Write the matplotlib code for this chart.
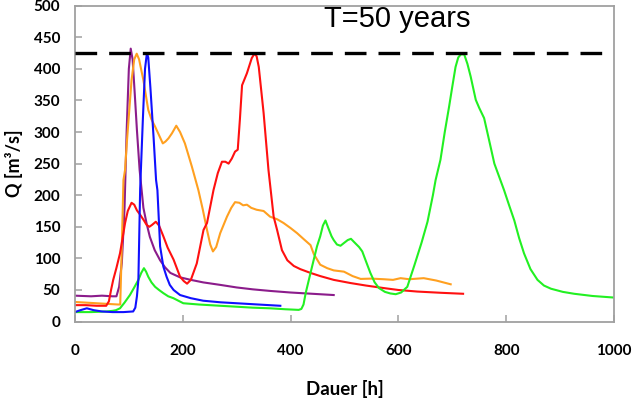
import matplotlib
matplotlib.use("Agg")
import matplotlib.pyplot as plt

# Hydrographs (duration in hours, discharge in m^3/s)
purple_t = [0, 30, 50, 70, 77, 82, 87, 92, 96, 100, 103.5, 107, 111, 115, 120, 127, 133, 139, 148,
            158, 167, 177, 195, 215, 238, 270, 300, 330, 362, 400, 440, 480]
purple_q = [41, 40, 41, 40, 40, 55, 93, 180, 303, 400, 432, 415, 360, 303, 240, 180, 155, 134, 113,
            97, 86, 77, 70, 66, 62, 58, 54, 51, 48.5, 46, 44, 42]

blue_t = [0, 10, 22, 35, 50, 70, 90, 108, 112, 115, 117.7, 121, 126, 130, 133.5, 136, 140, 146, 150.5,
          153, 158, 164, 170, 176, 183, 195, 215, 238, 270, 300, 340, 381]
blue_q = [15, 18, 21, 18, 16, 15, 15, 16, 22, 40, 66, 210, 320, 400, 425, 418, 370, 290, 224,
          208, 119, 87, 71, 58, 50, 42, 37, 33, 30.5, 29, 27, 25]

orange_t = [0, 20, 40, 60, 80, 84, 87, 90, 93, 96, 99, 105, 110, 114.6, 119, 127, 136, 142, 149, 156,
            163, 168, 173.5, 180, 188, 195, 204, 210, 217, 229, 237, 245, 251, 256, 262, 269.5, 282,
            290, 297, 305, 312, 319, 327, 337, 350, 362, 375, 387, 400, 412, 425, 437, 443, 455, 468,
            480, 499, 515, 530, 550, 573, 590, 604, 620, 647, 670, 697]
orange_q = [31, 30, 29, 28, 27, 27, 120, 224, 240, 280, 314, 382, 415, 424, 415, 382, 335, 320, 308,
            295, 282, 285, 290, 298, 310, 300, 282, 265, 245, 208, 178, 145, 122, 111, 118, 140,
            166, 180, 189, 188, 184, 185, 180, 177, 175, 166, 162, 156, 148, 140, 130, 121, 107, 90,
            84.5, 81, 79, 72, 67.5, 68, 67, 66, 68.7, 67, 68.7, 65, 59]

red_t = [0, 20, 40, 58, 63, 67, 71, 77, 83.6, 88, 93, 98, 105, 110, 115, 121, 128, 133, 138, 143, 150,
         156, 164, 172, 183, 195, 202, 208, 215, 226, 238.5, 245, 257, 265, 272.7, 279, 285, 291, 297,
         302, 306, 310, 319, 328, 333, 337, 341, 350, 359, 368.6, 375, 384, 394, 406, 418, 437, 455,
         480, 511, 540, 573, 600, 635, 680, 720]
red_q = [26, 26, 25, 25, 32, 50, 66, 85, 108, 130, 156, 175, 188, 185, 176, 169, 160, 153, 150, 153,
         158, 152, 135, 117, 98, 71, 64, 60, 66, 92, 145, 156, 208, 235, 253, 253, 250, 258, 269,
         272, 320, 374, 393, 417, 424, 420, 403, 330, 240, 166, 145, 113, 97, 88, 83, 77, 72,
         66, 61, 57, 53, 50, 47.5, 45.5, 44]

green_t = [0, 30, 59, 70, 76, 83.6, 92, 102, 110, 117.7, 123, 128, 132, 136, 142, 148.7, 156, 164, 173,
           182.7, 201, 230, 269.5, 300, 330, 362, 390, 415, 420, 424, 428, 437, 449, 455, 460, 464.7,
           470, 476, 480, 486, 492.6, 500, 506, 512, 520, 527, 533, 540, 548, 556, 564, 575, 585,
           595, 605, 616.5, 630, 643, 654, 664, 669, 678, 686, 694, 700, 706, 711, 716, 722, 728,
           734, 743.5, 750, 759, 768, 778, 790, 796, 805, 815, 824, 833, 845, 858, 870, 883, 905,
           926, 960, 1000]
green_q = [15, 15, 16, 17, 18, 21, 30, 42, 54, 66, 77, 84.5, 79, 71, 62, 55, 50, 45, 40,
           37, 29, 27, 25, 23.5, 22, 21, 19.5, 18.5, 20, 27, 45, 77, 119, 135, 152, 160,
           148, 135, 129, 122, 120, 125, 129, 131, 124, 118, 111, 95, 77, 62, 53, 47, 44.5,
           43.3, 46, 55, 90, 125, 158, 200, 224, 256, 300, 340, 372, 403, 418, 423, 423, 408,
           388, 351, 338, 322, 288, 250, 222, 208, 185, 160, 132, 108, 83, 66, 57, 52, 47,
           44, 40.5, 38]

design_q = 425
title_text = "T=50 years"
x_label = "Dauer [h]"
y_label = "Q [m³/s]"
x_ticks = [0, 200, 400, 600, 800, 1000]
y_ticks = [0, 50, 100, 150, 200, 250, 300, 350, 400, 450, 500]

fig = plt.figure(figsize=(6.35, 4.05), dpi=100)
ax = fig.add_axes([0.118, 0.206, 0.849, 0.780])

lw = 1.5
ax.plot(purple_t, purple_q, color="#8B1C8B", lw=lw)
ax.plot(orange_t, orange_q, color="#FFA020", lw=lw)
ax.plot(red_t, red_q, color="#FF1010", lw=lw)
ax.plot(green_t, green_q, color="#22F022", lw=lw)
ax.plot(blue_t, blue_q, color="#1010FF", lw=lw)

ax.axhline(design_q, color="black", lw=2.4, dashes=(6.5, 3.6), zorder=5)

ax.set_xlim(0, 1000)
ax.set_ylim(0, 500)
ax.set_xticks(x_ticks)
ax.set_yticks(y_ticks)

spine_col = "#A0A0A0"
for s in ax.spines.values():
    s.set_color(spine_col)
    s.set_linewidth(1.3)
ax.tick_params(direction="in", length=5, width=1.1, color=spine_col)
ax.tick_params(axis="y", pad=10.5)
ax.tick_params(axis="x", pad=16)
for lab in ax.get_xticklabels() + ax.get_yticklabels():
    lab.set_fontfamily("Lato")
    lab.set_fontweight("bold")
    lab.set_fontsize(11)

ax.set_xlabel(x_label, fontfamily="Lato", fontweight="bold", fontsize=13.5, labelpad=16)
ax.set_ylabel(y_label, fontfamily="Lato", fontweight="bold", fontsize=13)
ax.yaxis.set_label_coords(-0.097, 0.5)

ax.text(597, 466, title_text, ha="center", va="baseline",
        fontfamily="Liberation Sans", fontsize=21, color="black")

fig.savefig("out.png", dpi=100)
